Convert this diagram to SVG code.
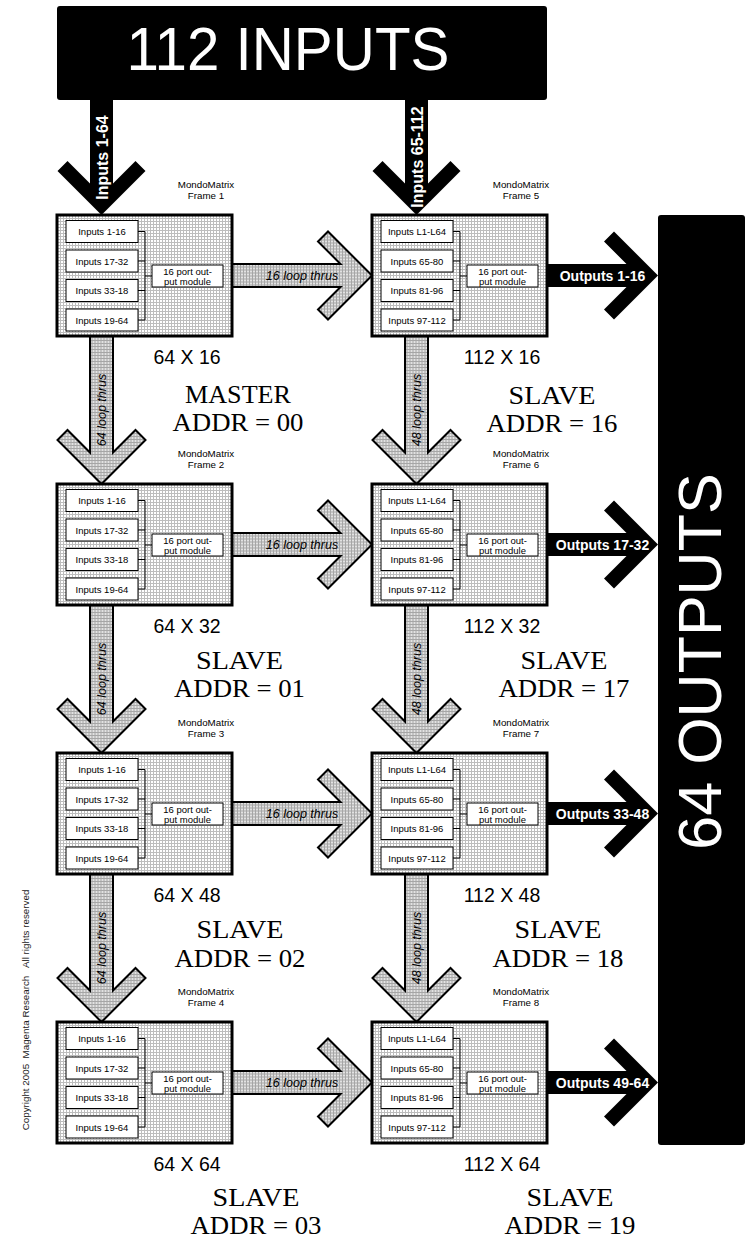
<svg xmlns="http://www.w3.org/2000/svg" xmlns:xlink="http://www.w3.org/1999/xlink" width="752" height="1240" viewBox="0 0 752 1240">
<defs>
<pattern id="fdots" width="3" height="3" patternUnits="userSpaceOnUse"><rect width="3" height="3" fill="#ffffff"/><path d="M0 0.5H3M0.5 0V3" stroke="#bdbdbd" stroke-width="1"/></pattern>
<pattern id="gdots" width="3" height="3" patternUnits="userSpaceOnUse"><rect width="3" height="3" fill="#e2e2e2"/><path d="M0 0.5H3M0.5 0V3" stroke="#a6a6a6" stroke-width="1"/></pattern>
<path id="gH" d="M-140 -11.5H-31.5L-54 -34L-44 -44L0 0L-44 44L-54 34L-31.5 11.5H-140Z"/>
<path id="gV" d="M-148 -11.5H-31.5L-54 -34L-44 -44L0 0L-44 44L-54 34L-31.5 11.5H-148Z"/>
<path id="bI" d="M-115 -11.5H-31.5L-54 -34L-44 -44L0 0L-44 44L-54 34L-31.5 11.5H-115Z"/>
<path id="bO" d="M-111 -11.5H-31.5L-54 -34L-44 -44L0 0L-44 44L-54 34L-31.5 11.5H-111Z"/>
</defs>
<style>
.fr{fill:url(#fdots);stroke:#000;stroke-width:3}
.ib{fill:#fff;stroke:#000;stroke-width:1}
.br{fill:none;stroke:#000;stroke-width:1}
.sans{font-family:"Liberation Sans",Arial,sans-serif}
.it{font-family:"Liberation Sans",Arial,sans-serif;font-size:9.5px;text-anchor:middle;fill:#000}
.mm{font-family:"Liberation Sans",Arial,sans-serif;font-size:9.75px;text-anchor:middle;fill:#000}
.dim{font-family:"Liberation Sans",Arial,sans-serif;font-size:19.5px;text-anchor:middle;fill:#000}
.role{font-family:"Liberation Serif","Times New Roman",serif;font-size:25px;text-anchor:middle;fill:#000}
.ga{fill:url(#gdots);stroke:#000;stroke-width:2;stroke-linejoin:miter}
.ba{fill:#000;stroke:none}
.gl{font-family:"Liberation Sans",Arial,sans-serif;font-size:12.5px;font-style:italic;text-anchor:middle;fill:#000}
.bl{font-family:"Liberation Sans",Arial,sans-serif;font-weight:bold;text-anchor:middle;fill:#fff}
.big{font-family:"Liberation Sans",Arial,sans-serif;fill:#fff}
</style>
<rect width="752" height="1240" fill="#fff"/>

<g id="connectors">
<use xlink:href="#bI" class="ba" transform="translate(101.5,215) rotate(90)"/>
<use xlink:href="#bI" class="ba" transform="translate(416.5,215) rotate(90)"/>
<use xlink:href="#gH" class="ga" transform="translate(372,275.5)"/>
<use xlink:href="#gH" class="ga" transform="translate(372,544.5)"/>
<use xlink:href="#gH" class="ga" transform="translate(372,813.5)"/>
<use xlink:href="#gH" class="ga" transform="translate(372,1082.5)"/>
<use xlink:href="#gV" class="ga" transform="translate(101.5,484) rotate(90)"/>
<use xlink:href="#gV" class="ga" transform="translate(101.5,753) rotate(90)"/>
<use xlink:href="#gV" class="ga" transform="translate(101.5,1022) rotate(90)"/>
<use xlink:href="#gV" class="ga" transform="translate(416.5,484) rotate(90)"/>
<use xlink:href="#gV" class="ga" transform="translate(416.5,753) rotate(90)"/>
<use xlink:href="#gV" class="ga" transform="translate(416.5,1022) rotate(90)"/>
<use xlink:href="#bO" class="ba" transform="translate(658,275.5)"/>
<use xlink:href="#bO" class="ba" transform="translate(658,544.5)"/>
<use xlink:href="#bO" class="ba" transform="translate(658,813.5)"/>
<use xlink:href="#bO" class="ba" transform="translate(658,1082.5)"/>
<text class="bl" font-size="16" transform="translate(108,157.5) rotate(-90)">Inputs 1-64</text>
<text class="bl" font-size="16" transform="translate(423,157) rotate(-90)">Inputs 65-112</text>
<text class="gl" x="302" y="280">16 loop thrus</text>
<text class="gl" x="302" y="549">16 loop thrus</text>
<text class="gl" x="302" y="818">16 loop thrus</text>
<text class="gl" x="302" y="1087">16 loop thrus</text>
<text class="gl" transform="translate(106,410) rotate(-90)">64 loop thrus</text>
<text class="gl" transform="translate(106,679) rotate(-90)">64 loop thrus</text>
<text class="gl" transform="translate(106,948) rotate(-90)">64 loop thrus</text>
<text class="gl" transform="translate(421,410) rotate(-90)">48 loop thrus</text>
<text class="gl" transform="translate(421,679) rotate(-90)">48 loop thrus</text>
<text class="gl" transform="translate(421,948) rotate(-90)">48 loop thrus</text>
<text class="bl" font-size="14" x="602.5" y="280.5">Outputs 1-16</text>
<text class="bl" font-size="14" x="602.5" y="549.5">Outputs 17-32</text>
<text class="bl" font-size="14" x="602.5" y="818.5">Outputs 33-48</text>
<text class="bl" font-size="14" x="602.5" y="1087.5">Outputs 49-64</text>
</g>

<g id="inputs">
<rect x="57" y="6" width="490" height="94" rx="3" fill="#000"/>
<text class="big" x="126.4" y="70" font-size="62" textLength="323" lengthAdjust="spacingAndGlyphs">112 INPUTS</text>
</g>

<g id="outputs">
<rect x="658" y="215" width="87" height="930" rx="3" fill="#000"/>
<text class="big" font-size="61" text-anchor="middle" transform="translate(721,661.5) rotate(-90)">64 OUTPUTS</text>
</g>

<g id="frame1" transform="translate(57,215)">
<text class="mm" x="149" y="-27.5">MondoMatrix</text>
<text class="mm" x="149" y="-16">Frame 1</text>
<rect class="fr" width="175" height="121"/>
<rect class="ib" x="9" y="5.5" width="72" height="22"/>
<rect class="ib" x="9" y="35" width="72" height="22"/>
<rect class="ib" x="9" y="64.5" width="72" height="22"/>
<rect class="ib" x="9" y="94" width="72" height="22"/>
<text class="it" x="45" y="20">Inputs 1-16</text>
<text class="it" x="45" y="49.5">Inputs 17-32</text>
<text class="it" x="45" y="79">Inputs 33-18</text>
<text class="it" x="45" y="108.5">Inputs 19-64</text>
<path class="br" d="M81 16.5H88V105H81M81 46H88M81 75.5H88M88 61H95"/>
<rect class="ib" x="95" y="50" width="71" height="22"/>
<text class="it" x="130.5" y="59.5">16 port out-</text>
<text class="it" x="130.5" y="70">put module</text>
<text class="dim" x="130" y="148.5">64 X 16</text>
<text class="role" x="181" y="188" textLength="106" lengthAdjust="spacingAndGlyphs">MASTER</text>
<text class="role" x="181" y="216" textLength="131" lengthAdjust="spacingAndGlyphs">ADDR = 00</text>
</g>

<g id="frame2" transform="translate(57,484)">
<text class="mm" x="149" y="-27.5">MondoMatrix</text>
<text class="mm" x="149" y="-16">Frame 2</text>
<rect class="fr" width="175" height="121"/>
<rect class="ib" x="9" y="5.5" width="72" height="22"/>
<rect class="ib" x="9" y="35" width="72" height="22"/>
<rect class="ib" x="9" y="64.5" width="72" height="22"/>
<rect class="ib" x="9" y="94" width="72" height="22"/>
<text class="it" x="45" y="20">Inputs 1-16</text>
<text class="it" x="45" y="49.5">Inputs 17-32</text>
<text class="it" x="45" y="79">Inputs 33-18</text>
<text class="it" x="45" y="108.5">Inputs 19-64</text>
<path class="br" d="M81 16.5H88V105H81M81 46H88M81 75.5H88M88 61H95"/>
<rect class="ib" x="95" y="50" width="71" height="22"/>
<text class="it" x="130.5" y="59.5">16 port out-</text>
<text class="it" x="130.5" y="70">put module</text>
<text class="dim" x="130" y="148.5">64 X 32</text>
<text class="role" x="182.5" y="185" textLength="87" lengthAdjust="spacingAndGlyphs">SLAVE</text>
<text class="role" x="182.5" y="213" textLength="131" lengthAdjust="spacingAndGlyphs">ADDR = 01</text>
</g>

<g id="frame3" transform="translate(57,753)">
<text class="mm" x="149" y="-27.5">MondoMatrix</text>
<text class="mm" x="149" y="-16">Frame 3</text>
<rect class="fr" width="175" height="121"/>
<rect class="ib" x="9" y="5.5" width="72" height="22"/>
<rect class="ib" x="9" y="35" width="72" height="22"/>
<rect class="ib" x="9" y="64.5" width="72" height="22"/>
<rect class="ib" x="9" y="94" width="72" height="22"/>
<text class="it" x="45" y="20">Inputs 1-16</text>
<text class="it" x="45" y="49.5">Inputs 17-32</text>
<text class="it" x="45" y="79">Inputs 33-18</text>
<text class="it" x="45" y="108.5">Inputs 19-64</text>
<path class="br" d="M81 16.5H88V105H81M81 46H88M81 75.5H88M88 61H95"/>
<rect class="ib" x="95" y="50" width="71" height="22"/>
<text class="it" x="130.5" y="59.5">16 port out-</text>
<text class="it" x="130.5" y="70">put module</text>
<text class="dim" x="130" y="148.5">64 X 48</text>
<text class="role" x="183" y="185" textLength="87" lengthAdjust="spacingAndGlyphs">SLAVE</text>
<text class="role" x="183" y="214" textLength="131" lengthAdjust="spacingAndGlyphs">ADDR = 02</text>
</g>

<g id="frame4" transform="translate(57,1022)">
<text class="mm" x="149" y="-27.5">MondoMatrix</text>
<text class="mm" x="149" y="-16">Frame 4</text>
<rect class="fr" width="175" height="121"/>
<rect class="ib" x="9" y="5.5" width="72" height="22"/>
<rect class="ib" x="9" y="35" width="72" height="22"/>
<rect class="ib" x="9" y="64.5" width="72" height="22"/>
<rect class="ib" x="9" y="94" width="72" height="22"/>
<text class="it" x="45" y="20">Inputs 1-16</text>
<text class="it" x="45" y="49.5">Inputs 17-32</text>
<text class="it" x="45" y="79">Inputs 33-18</text>
<text class="it" x="45" y="108.5">Inputs 19-64</text>
<path class="br" d="M81 16.5H88V105H81M81 46H88M81 75.5H88M88 61H95"/>
<rect class="ib" x="95" y="50" width="71" height="22"/>
<text class="it" x="130.5" y="59.5">16 port out-</text>
<text class="it" x="130.5" y="70">put module</text>
<text class="dim" x="130" y="148.5">64 X 64</text>
<text class="role" x="199" y="184" textLength="87" lengthAdjust="spacingAndGlyphs">SLAVE</text>
<text class="role" x="199" y="212" textLength="131" lengthAdjust="spacingAndGlyphs">ADDR = 03</text>
</g>

<g id="frame5" transform="translate(372,215)">
<text class="mm" x="149" y="-27.5">MondoMatrix</text>
<text class="mm" x="149" y="-16">Frame 5</text>
<rect class="fr" width="175" height="121"/>
<rect class="ib" x="9" y="5.5" width="72" height="22"/>
<rect class="ib" x="9" y="35" width="72" height="22"/>
<rect class="ib" x="9" y="64.5" width="72" height="22"/>
<rect class="ib" x="9" y="94" width="72" height="22"/>
<text class="it" x="45" y="20">Inputs L1-L64</text>
<text class="it" x="45" y="49.5">Inputs 65-80</text>
<text class="it" x="45" y="79">Inputs 81-96</text>
<text class="it" x="45" y="108.5">Inputs 97-112</text>
<path class="br" d="M81 16.5H88V105H81M81 46H88M81 75.5H88M88 61H95"/>
<rect class="ib" x="95" y="50" width="71" height="22"/>
<text class="it" x="130.5" y="59.5">16 port out-</text>
<text class="it" x="130.5" y="70">put module</text>
<text class="dim" x="130" y="148.5">112 X 16</text>
<text class="role" x="180" y="189" textLength="87" lengthAdjust="spacingAndGlyphs">SLAVE</text>
<text class="role" x="180" y="217" textLength="131" lengthAdjust="spacingAndGlyphs">ADDR = 16</text>
</g>

<g id="frame6" transform="translate(372,484)">
<text class="mm" x="149" y="-27.5">MondoMatrix</text>
<text class="mm" x="149" y="-16">Frame 6</text>
<rect class="fr" width="175" height="121"/>
<rect class="ib" x="9" y="5.5" width="72" height="22"/>
<rect class="ib" x="9" y="35" width="72" height="22"/>
<rect class="ib" x="9" y="64.5" width="72" height="22"/>
<rect class="ib" x="9" y="94" width="72" height="22"/>
<text class="it" x="45" y="20">Inputs L1-L64</text>
<text class="it" x="45" y="49.5">Inputs 65-80</text>
<text class="it" x="45" y="79">Inputs 81-96</text>
<text class="it" x="45" y="108.5">Inputs 97-112</text>
<path class="br" d="M81 16.5H88V105H81M81 46H88M81 75.5H88M88 61H95"/>
<rect class="ib" x="95" y="50" width="71" height="22"/>
<text class="it" x="130.5" y="59.5">16 port out-</text>
<text class="it" x="130.5" y="70">put module</text>
<text class="dim" x="130" y="148.5">112 X 32</text>
<text class="role" x="192" y="185" textLength="87" lengthAdjust="spacingAndGlyphs">SLAVE</text>
<text class="role" x="192" y="213" textLength="131" lengthAdjust="spacingAndGlyphs">ADDR = 17</text>
</g>

<g id="frame7" transform="translate(372,753)">
<text class="mm" x="149" y="-27.5">MondoMatrix</text>
<text class="mm" x="149" y="-16">Frame 7</text>
<rect class="fr" width="175" height="121"/>
<rect class="ib" x="9" y="5.5" width="72" height="22"/>
<rect class="ib" x="9" y="35" width="72" height="22"/>
<rect class="ib" x="9" y="64.5" width="72" height="22"/>
<rect class="ib" x="9" y="94" width="72" height="22"/>
<text class="it" x="45" y="20">Inputs L1-L64</text>
<text class="it" x="45" y="49.5">Inputs 65-80</text>
<text class="it" x="45" y="79">Inputs 81-96</text>
<text class="it" x="45" y="108.5">Inputs 97-112</text>
<path class="br" d="M81 16.5H88V105H81M81 46H88M81 75.5H88M88 61H95"/>
<rect class="ib" x="95" y="50" width="71" height="22"/>
<text class="it" x="130.5" y="59.5">16 port out-</text>
<text class="it" x="130.5" y="70">put module</text>
<text class="dim" x="130" y="148.5">112 X 48</text>
<text class="role" x="186" y="185" textLength="87" lengthAdjust="spacingAndGlyphs">SLAVE</text>
<text class="role" x="186" y="214" textLength="131" lengthAdjust="spacingAndGlyphs">ADDR = 18</text>
</g>

<g id="frame8" transform="translate(372,1022)">
<text class="mm" x="149" y="-27.5">MondoMatrix</text>
<text class="mm" x="149" y="-16">Frame 8</text>
<rect class="fr" width="175" height="121"/>
<rect class="ib" x="9" y="5.5" width="72" height="22"/>
<rect class="ib" x="9" y="35" width="72" height="22"/>
<rect class="ib" x="9" y="64.5" width="72" height="22"/>
<rect class="ib" x="9" y="94" width="72" height="22"/>
<text class="it" x="45" y="20">Inputs L1-L64</text>
<text class="it" x="45" y="49.5">Inputs 65-80</text>
<text class="it" x="45" y="79">Inputs 81-96</text>
<text class="it" x="45" y="108.5">Inputs 97-112</text>
<path class="br" d="M81 16.5H88V105H81M81 46H88M81 75.5H88M88 61H95"/>
<rect class="ib" x="95" y="50" width="71" height="22"/>
<text class="it" x="130.5" y="59.5">16 port out-</text>
<text class="it" x="130.5" y="70">put module</text>
<text class="dim" x="130" y="148.5">112 X 64</text>
<text class="role" x="198" y="184" textLength="87" lengthAdjust="spacingAndGlyphs">SLAVE</text>
<text class="role" x="198" y="212" textLength="131" lengthAdjust="spacingAndGlyphs">ADDR = 19</text>
</g>

<g id="copyright">
<text class="sans" font-size="9.8" fill="#222" text-anchor="middle" xml:space="preserve" transform="translate(29,1010) rotate(-90)">Copyright 2005  Magenta Research   All rights reserved</text>
</g>
</svg>
